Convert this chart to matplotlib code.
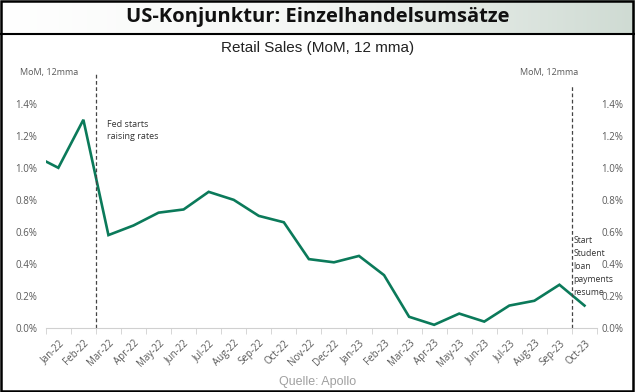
import matplotlib.pyplot as plt
import numpy as np
from matplotlib.colors import LinearSegmentedColormap

# month labels shown on the axis
months = ["Jan-22", "Feb-22", "Mar-22", "Apr-22", "May-22", "Jun-22", "Jul-22",
          "Aug-22", "Sep-22", "Oct-22", "Nov-22", "Dec-22", "Jan-23", "Feb-23",
          "Mar-23", "Apr-23", "May-23", "Jun-23", "Jul-23", "Aug-23", "Sep-23",
          "Oct-23"]
# retail sales MoM, 12 month moving average (%), Dec-21 first (clipped at the edge)
retail = [1.08, 1.00, 1.30, 0.58, 0.64, 0.72, 0.74, 0.85, 0.80, 0.70, 0.66,
          0.43, 0.41, 0.45, 0.33, 0.07, 0.02, 0.09, 0.04, 0.14, 0.17, 0.27, 0.14]
yticks = [0.0, 0.2, 0.4, 0.6, 0.8, 1.0, 1.2, 1.4]
ylabels = [f"{v:.1f}%" for v in yticks]
student_note = ["Start", "Student", "loan", "payments", "resume"]

green = "#0b7a5a"
grey = "#595959"
fnt = "Open Sans"

fig = plt.figure(figsize=(6.35, 3.92), dpi=100)

# header band with gradient
hdr = fig.add_axes([0, 1 - 33 / 392, 1, 33 / 392])
cmap = LinearSegmentedColormap.from_list("hdr", ["#ffffff", "#f4f6f4", "#cfdbd3"])
hdr.imshow(np.linspace(0, 1, 256).reshape(1, -1), aspect="auto", cmap=cmap,
           extent=[0, 1, 0, 1])
hdr.set_xlim(0, 1)
hdr.set_ylim(0, 1)
hdr.axis("off")
hdr.text(0.5, 0.47, "US-Konjunktur: Einzelhandelsumsätze", ha="center", va="center",
         fontsize=14.5, fontweight="bold", family="Open Sans", color="#111111")

# border lines
fig.add_artist(plt.Line2D([0, 1], [1 - 33.5 / 392] * 2, color="black", lw=1.5))
fig.add_artist(plt.Rectangle((0.002, 0.003), 0.995, 0.994, fill=False,
                             edgecolor="black", lw=1.8))

fig.text(0.5, 1 - 48 / 392, "Retail Sales (MoM, 12 mma)", ha="center", va="center",
         fontsize=11, family="Liberation Sans", color="#222222")

ax = fig.add_axes([45.8 / 635, 1 - 328 / 392, (597 - 45.8) / 635, (328 - 71.7) / 392])
x = np.arange(-1, len(months))
ax.plot(x, retail, color=green, lw=1.9, solid_joinstyle="miter")
ax.set_xlim(-0.5, len(months) - 0.5)
ax.set_ylim(0, 1.6)

ax.vlines(1.5, 0, 1.6, colors="#444444", linestyles=(0, (3, 2)), lw=0.9)
ax.vlines(20.5, 0, 1.51, colors="#444444", linestyles=(0, (3, 2)), lw=0.9)

ax.text(1.95, 1.235, "Fed starts\nraising rates", ha="left", va="center",
        fontsize=6.5, family=fnt, color="#333333", linespacing=1.45)
# one text per line so the note sits between the right-hand tick labels
for i, word in enumerate(student_note):
    ax.text(20.55, 0.545 - i * 0.081, word, ha="left", va="center",
            fontsize=6.2, family=fnt, color="#333333")

for s in ["top", "left", "right"]:
    ax.spines[s].set_visible(False)
ax.spines["bottom"].set_color("#d0d0d0")

ax.set_xticks(np.arange(len(months)))
ax.set_xticklabels(months, rotation=45, ha="right", rotation_mode="anchor",
                   fontsize=7, family=fnt, color=grey)
ax.set_xticks(np.arange(-0.5, len(months)), minor=True)
ax.tick_params(axis="x", which="major", length=0, pad=7)
ax.tick_params(axis="x", which="minor", length=4, color="#d0d0d0")

ax.set_yticks(yticks)
ax.set_yticklabels(ylabels, fontsize=7, family=fnt, color=grey)
ax.tick_params(axis="y", length=0, pad=6)

# right-hand copy of the percent axis
ax2 = ax.twinx()
ax2.set_ylim(ax.get_ylim())
ax2.set_yticks(yticks)
ax2.set_yticklabels(ylabels, fontsize=7, family=fnt, color=grey)
ax2.tick_params(axis="y", length=0, pad=3)
for s in ax2.spines.values():
    s.set_visible(False)

fig.text(20 / 635, 1 - 73 / 392, "MoM, 12mma", ha="left", va="center",
         fontsize=6.5, family=fnt, color=grey)
fig.text(578 / 635, 1 - 73 / 392, "MoM, 12mma", ha="right", va="center",
         fontsize=6.5, family=fnt, color=grey)
fig.text(0.5, 1 - 382 / 392, "Quelle: Apollo", ha="center", va="center",
         fontsize=9, family="Liberation Sans", color="#a0a0a0")

fig.savefig("out.png", dpi=100)
